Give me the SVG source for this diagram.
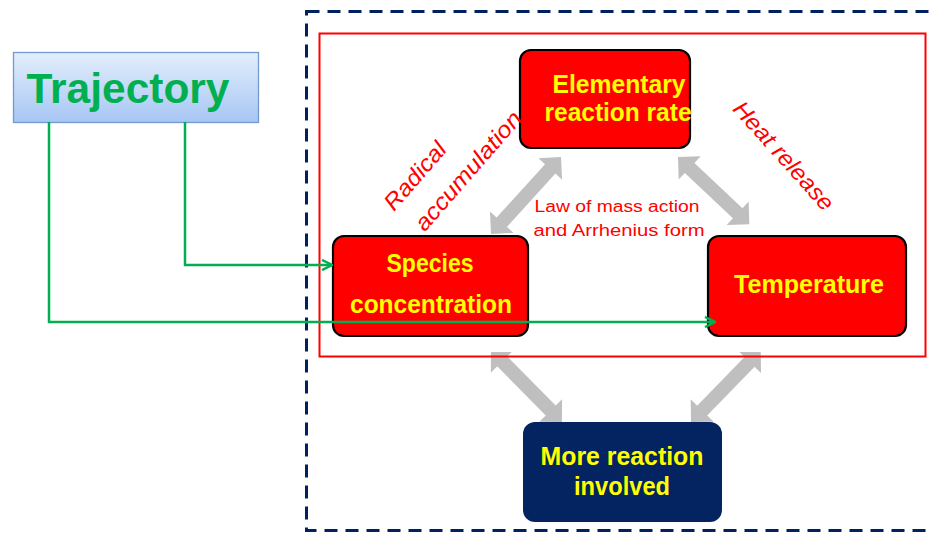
<svg xmlns="http://www.w3.org/2000/svg" width="932" height="533" viewBox="0 0 932 533">
<style>
.box{fill:#FF0000;stroke:#000;stroke-width:2.2}
.lbl{font-family:"Liberation Sans",Arial,sans-serif;font-weight:bold;fill:#FFFF00;text-anchor:middle;font-size:25px}
.red{font-family:"Liberation Sans",Arial,sans-serif;fill:#FF0000;text-anchor:middle}
.gray{fill:#BFBFBF}
.green{fill:none;stroke:#00B050;stroke-width:2.5}
</style>
<defs>
<linearGradient id="tg" x1="0" y1="0" x2="0" y2="1">
<stop offset="0" stop-color="#E3EEFC"/>
<stop offset="1" stop-color="#A7C6F4"/>
</linearGradient>
<marker id="ga" viewBox="0 0 12 12" refX="11" refY="6" markerWidth="12" markerHeight="12" markerUnits="userSpaceOnUse" orient="auto">
<path d="M1,1 L11,6 L1,11" fill="none" stroke="#00B050" stroke-width="2.5"/>
</marker>
<clipPath id="below"><rect x="0" y="352" width="932" height="181"/></clipPath>
</defs>

<rect x="306.5" y="11.5" width="680" height="519" fill="none" stroke="#002060" stroke-width="3" stroke-dasharray="13 8"/>

<g id="gray-arrows">
<polygon class="gray" transform="translate(491,234) rotate(-47.7)" points="0,0 16,-16 16,-7 88,-7 88,-16 104,0 88,16 88,7 16,7 16,16"/>
<polygon class="gray" transform="translate(678,157) rotate(43.3)" points="0,0 16,-16 16,-7 82,-7 82,-16 98,0 82,16 82,7 16,7 16,16"/>
<g clip-path="url(#below)">
<polygon class="gray" transform="translate(491,350) rotate(45.4)" points="0,0 16,-16 16,-7 85,-7 85,-16 101,0 85,16 85,7 16,7 16,16"/>
<polygon class="gray" transform="translate(691,422) rotate(-45.8)" points="0,0 16,-16 16,-7 84,-7 84,-16 100,0 84,16 84,7 16,7 16,16"/>
</g>
</g>

<rect x="319.5" y="33.5" width="606" height="323" fill="none" stroke="#FF0000" stroke-width="2"/>

<g id="trajectory">
<rect x="13.5" y="52.5" width="245" height="70" fill="url(#tg)" stroke="#7399CF" stroke-width="1.3"/>
<text x="128" y="103" font-family="'Liberation Sans',Arial,sans-serif" font-weight="bold" font-size="42" fill="#00B050" text-anchor="middle" textLength="203" lengthAdjust="spacingAndGlyphs">Trajectory</text>
</g>

<g id="elementary">
<rect class="box" x="520" y="50" width="170" height="98" rx="11"/>
<text class="lbl" x="619" y="93" textLength="133" lengthAdjust="spacingAndGlyphs">Elementary</text>
<text class="lbl" x="618" y="121" textLength="147" lengthAdjust="spacingAndGlyphs">reaction rate</text>
</g>

<g id="species">
<rect class="box" x="333" y="236" width="195" height="100" rx="11"/>
<text class="lbl" x="430" y="272" textLength="87" lengthAdjust="spacingAndGlyphs">Species</text>
<text class="lbl" x="431" y="313" textLength="162" lengthAdjust="spacingAndGlyphs">concentration</text>
</g>

<g id="temperature">
<rect class="box" x="708" y="236" width="198" height="100" rx="11"/>
<text class="lbl" x="809" y="293" textLength="150" lengthAdjust="spacingAndGlyphs">Temperature</text>
</g>

<g id="more">
<rect x="523" y="422" width="199" height="100" rx="12" fill="#042361"/>
<text class="lbl" x="622" y="465" textLength="163" lengthAdjust="spacingAndGlyphs">More reaction</text>
<text class="lbl" x="622" y="495" textLength="96" lengthAdjust="spacingAndGlyphs">involved</text>
</g>

<g id="labels">
<text class="red" x="617" y="212" font-size="16" textLength="165" lengthAdjust="spacingAndGlyphs">Law of mass action</text>
<text class="red" x="619" y="236" font-size="16" textLength="171" lengthAdjust="spacingAndGlyphs">and Arrhenius form</text>
<text class="red" font-size="23" font-style="italic" transform="translate(421,181) rotate(-49)" textLength="82" lengthAdjust="spacingAndGlyphs">Radical</text>
<text class="red" font-size="23" font-style="italic" transform="translate(474,176) rotate(-49)" textLength="150" lengthAdjust="spacingAndGlyphs">accumulation</text>
<text class="red" font-size="23" font-style="italic" transform="translate(778,161) rotate(48)" textLength="138" lengthAdjust="spacingAndGlyphs">Heat release</text>
</g>

<g id="connectors">
<polyline class="green" points="185,122 185,265 332,265" marker-end="url(#ga)"/>
<polyline class="green" points="49,122 49,322 715,322" marker-end="url(#ga)"/>
</g>
</svg>
